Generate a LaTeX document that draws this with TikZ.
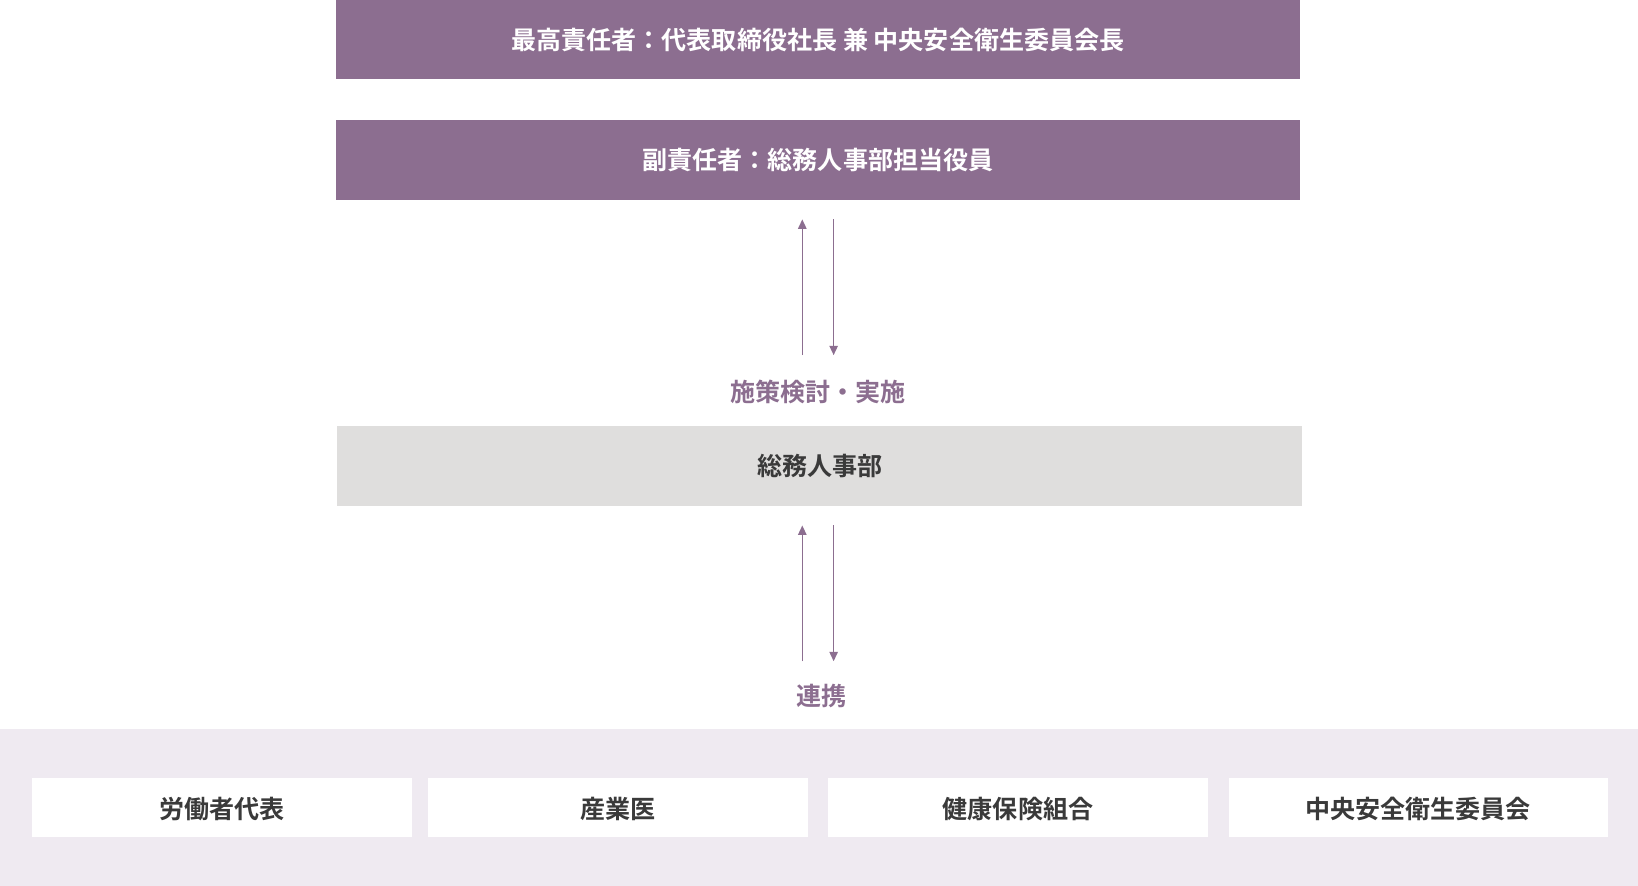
\documentclass[tikz,border=0pt]{standalone}
\usepackage{fontspec}
\setmainfont{Noto Sans CJK JP}[BoldFont={Noto Sans CJK JP Bold}]
\usetikzlibrary{arrows.meta}
\definecolor{pur}{HTML}{8C6E90}
\definecolor{gr}{HTML}{DFDEDD}
\definecolor{band}{HTML}{EFEAF1}
\definecolor{txt}{HTML}{3A3A3A}
\begin{document}
\begin{tikzpicture}[x=1pt,y=-1pt,
  pbox/.style={fill=pur,text=white,font=\fontsize{24}{28}\selectfont\bfseries},
  gbox/.style={fill=gr,text=txt,font=\fontsize{24}{28}\selectfont\bfseries},
  wbox/.style={fill=white,text=txt,font=\fontsize{24}{28}\selectfont\bfseries},
  lab/.style={text=pur,font=\fontsize{24}{28}\selectfont\bfseries},
  arr/.style={draw=pur,line width=1.5pt,-{Triangle[length=9pt,width=8pt]}}]
\useasboundingbox (0,0) rectangle (1568,848);
\fill[band] (0,698) rectangle (1568,848);
\fill[pur] (322,0) rectangle (1244,76);
\node[pbox] (top) at (783,38) {最高責任者：代表取締役社長 兼 中央安全衛生委員会長};
\fill[pur] (322,115) rectangle (1244,191);
\node[pbox] (sub) at (783,153) {副責任者：総務人事部担当役員};
\node[lab] (l1) at (783,375) {施策検討・実施};
\fill[gr] (323,408) rectangle (1246,484);
\node[gbox] (hr) at (785,446) {総務人事部};
\node[lab] (l2) at (786,666) {連携};
\coordinate (a1s) at (768,340); \coordinate (a1e) at (768,210);
\coordinate (a2s) at (798,210); \coordinate (a2e) at (798,340);
\coordinate (b1s) at (768,633); \coordinate (b1e) at (768,503);
\coordinate (b2s) at (798,503); \coordinate (b2e) at (798,633);
\draw[arr] (a1s) -- (a1e); \draw[arr] (a2s) -- (a2e);
\draw[arr] (b1s) -- (b1e); \draw[arr] (b2s) -- (b2e);
\fill[white] (31,745) rectangle (394,801);
\fill[white] (410,745) rectangle (773,801);
\fill[white] (793,745) rectangle (1156,801);
\fill[white] (1176,745) rectangle (1539,801);
\node[wbox] (w1) at (212.5,774) {労働者代表};
\node[wbox] (w2) at (591.5,774) {産業医};
\node[wbox] (w3) at (974.5,774) {健康保険組合};
\node[wbox] (w4) at (1357.5,774) {中央安全衛生委員会};
\end{tikzpicture}
\end{document}
